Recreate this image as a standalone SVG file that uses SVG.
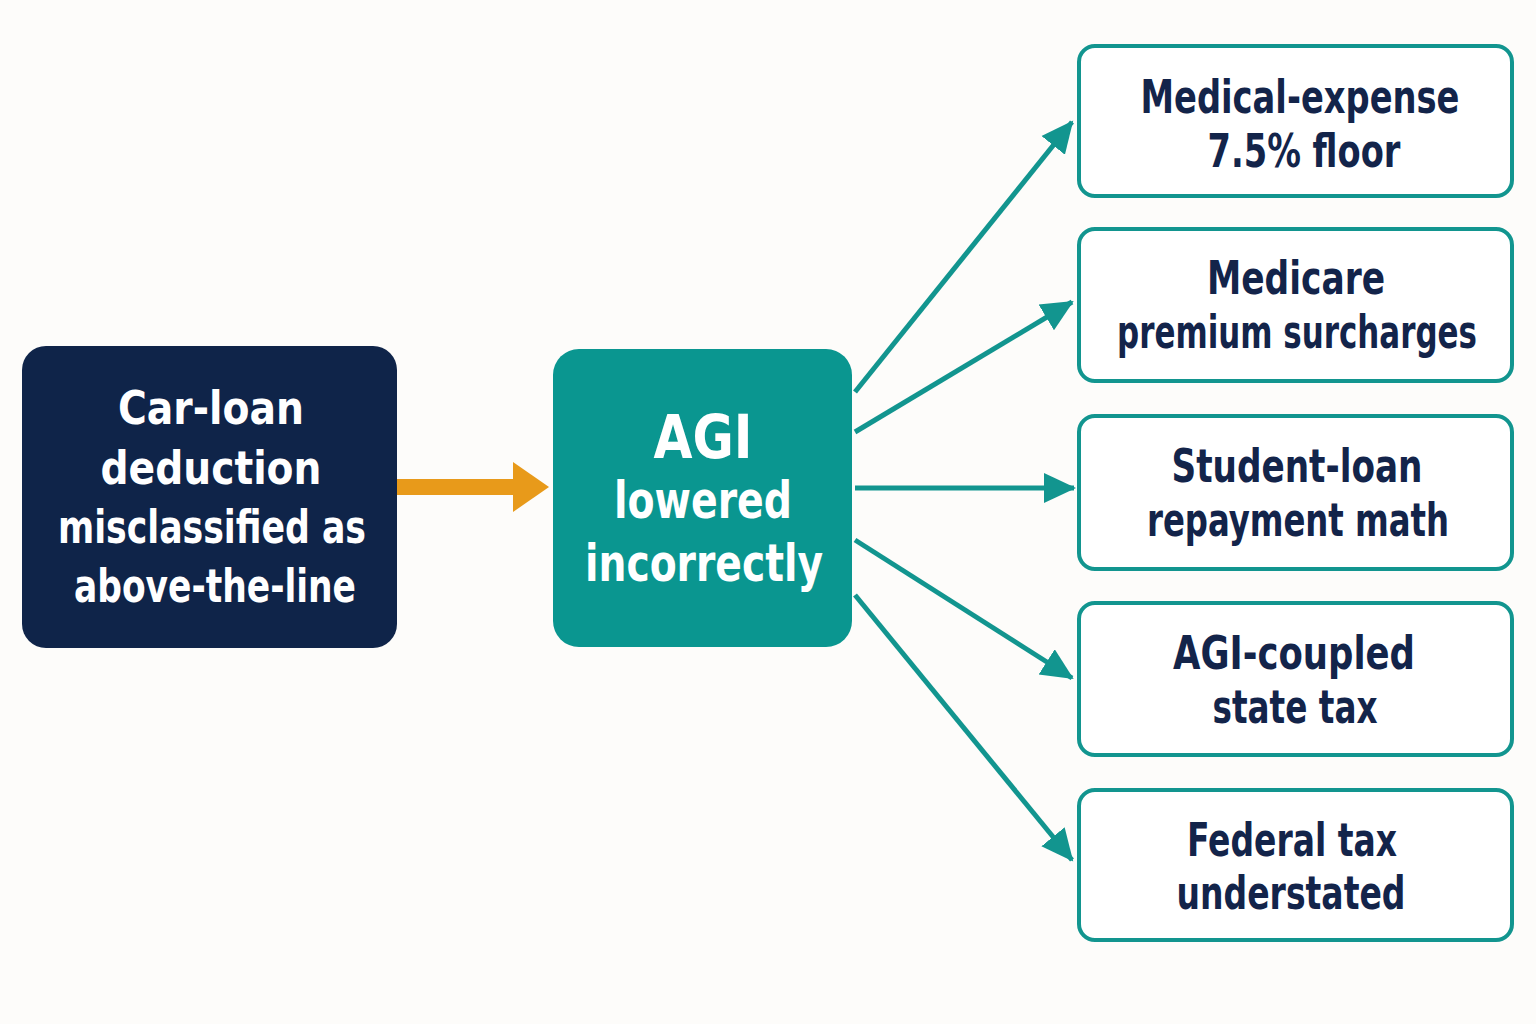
<svg xmlns="http://www.w3.org/2000/svg" width="1536" height="1024" viewBox="0 0 1536 1024">
<defs>
<style>
.t{font-family:"DejaVu Sans Condensed","DejaVu Sans","Liberation Sans",sans-serif;font-weight:bold;text-anchor:middle}
.w{fill:#ffffff}
.d{fill:#13244a;font-size:46px}
.box{fill:#ffffff;stroke:#12958f;stroke-width:4}
.c{stroke:#12958f;stroke-width:5;fill:none}
</style>
<marker id="ah" markerUnits="userSpaceOnUse" markerWidth="34" markerHeight="34" refX="30" refY="15" orient="auto" viewBox="0 0 34 30">
<path d="M0,0 L32,15 L0,30 Z" fill="#12958f"/>
</marker>
</defs>
<rect width="1536" height="1024" fill="#fdfcfa"/>
<g id="connectors">
<path d="M397,487 H514" stroke="#e89a1a" stroke-width="16"/>
<path d="M513,462 L549,487 L513,512 Z" fill="#e89a1a"/>
<path class="c" d="M855,392 L1072,122" marker-end="url(#ah)"/>
<path class="c" d="M855,432 L1072,302" marker-end="url(#ah)"/>
<path class="c" d="M855,488 L1074,488" marker-end="url(#ah)"/>
<path class="c" d="M855,540 L1072,678" marker-end="url(#ah)"/>
<path class="c" d="M855,595 L1072,860" marker-end="url(#ah)"/>
</g>
<g id="source">
<rect x="22" y="346" width="375" height="302" rx="24" fill="#0f2449"/>
<text class="t w" font-size="46" x="211" y="424" textLength="186" lengthAdjust="spacingAndGlyphs">Car-loan</text>
<text class="t w" font-size="46" x="211" y="484" textLength="221" lengthAdjust="spacingAndGlyphs">deduction</text>
<text class="t w" font-size="46" x="212" y="543" textLength="308" lengthAdjust="spacingAndGlyphs">misclassified as</text>
<text class="t w" font-size="46" x="215" y="602" textLength="282" lengthAdjust="spacingAndGlyphs">above-the-line</text>
</g>
<g id="agi">
<rect x="553" y="349" width="299" height="298" rx="26" fill="#0a9690"/>
<text class="t w" font-size="60" x="703" y="458" textLength="99" lengthAdjust="spacingAndGlyphs">AGI</text>
<text class="t w" font-size="52" x="703" y="518" textLength="178" lengthAdjust="spacingAndGlyphs">lowered</text>
<text class="t w" font-size="52" x="704" y="581" textLength="238" lengthAdjust="spacingAndGlyphs">incorrectly</text>
</g>
<g id="medical">
<rect class="box" x="1079" y="46" width="433" height="150" rx="16"/>
<text class="t d" x="1300" y="113" textLength="319" lengthAdjust="spacingAndGlyphs">Medical-expense</text>
<text class="t d" x="1304" y="167" textLength="193" lengthAdjust="spacingAndGlyphs">7.5% floor</text>
</g>
<g id="medicare">
<rect class="box" x="1079" y="229" width="433" height="152" rx="16"/>
<text class="t d" x="1296" y="294" textLength="178" lengthAdjust="spacingAndGlyphs">Medicare</text>
<text class="t d" x="1297" y="348" textLength="360" lengthAdjust="spacingAndGlyphs">premium surcharges</text>
</g>
<g id="student">
<rect class="box" x="1079" y="416" width="433" height="153" rx="16"/>
<text class="t d" x="1297" y="482" textLength="251" lengthAdjust="spacingAndGlyphs">Student-loan</text>
<text class="t d" x="1298" y="536" textLength="302" lengthAdjust="spacingAndGlyphs">repayment math</text>
</g>
<g id="state">
<rect class="box" x="1079" y="603" width="433" height="152" rx="16"/>
<text class="t d" x="1294" y="669" textLength="242" lengthAdjust="spacingAndGlyphs">AGI-coupled</text>
<text class="t d" x="1295" y="723" textLength="165" lengthAdjust="spacingAndGlyphs">state tax</text>
</g>
<g id="federal">
<rect class="box" x="1079" y="790" width="433" height="150" rx="16"/>
<text class="t d" x="1292" y="856" textLength="210" lengthAdjust="spacingAndGlyphs">Federal tax</text>
<text class="t d" x="1291" y="909" textLength="229" lengthAdjust="spacingAndGlyphs">understated</text>
</g>
</svg>
